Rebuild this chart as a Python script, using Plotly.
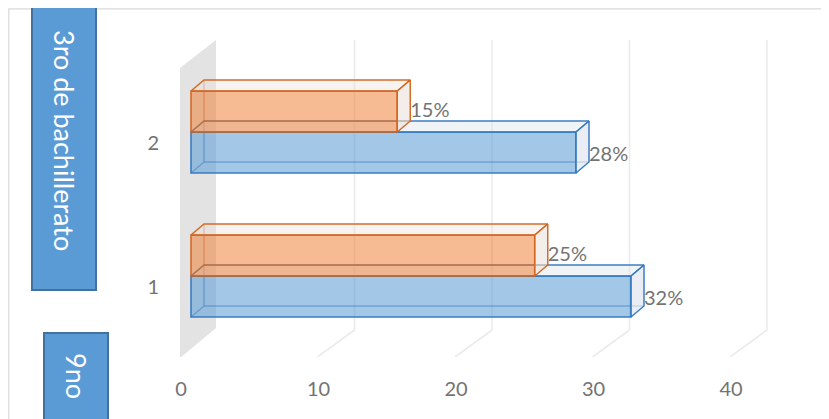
import plotly.graph_objects as go

# ---------------- data ----------------
categories = [1, 2]
category_labels = ["1", "2"]
serie_azul = [32, 28]
serie_naranja = [25, 15]
etiqueta_azul = ["32%", "28%"]
etiqueta_naranja = ["25%", "15%"]
x_ticks = [0, 10, 20, 30, 40]
texto_caja_1 = "3ro de bachillerato"
texto_caja_2 = "9no"

# ---------------- geometry (reference pixels) ----------------
W, H = 829, 419
PAGE_OFF = 8                       # default body margin of the html page
L, RX, T, BY = 170, 800, 20, 357   # plot area edges (page pixels)
X0PX, PXX = 191.0, 13.75           # x=0 pixel, pixels per x unit
Y1PX, PXY = 276.0, 144.0           # category 1 pixel, pixels per category unit


def ux(p):
    return p / PXX


def uy(p):
    return p / PXY


def px2x(px):
    return (px - X0PX) / PXX


def py2y(py):
    return 1 + (Y1PX - py) / PXY


PW, PH = RX - L, BY - T


def paperx(px):
    return (px - L) / PW


def papery(py):
    return (BY - py) / PH


x_range = [px2x(L), px2x(RX)]
y_range = [py2y(BY), py2y(T)]

BAR_H = uy(41)
BDX, BDY = ux(13), uy(11)       # bar depth
GDX = ux(26)                    # back wall offset
FDX, FDY = ux(-37), uy(-27)     # floor diagonal
G_TOP, G_BOT = py2y(40), py2y(330)

FONT = "Lato"
GRAY = "#737373"

fig = go.Figure()

# side wall
wx = [ux(-11), ux(-11), ux(25), ux(25), ux(-11)]
wy = [py2y(358), py2y(68), py2y(40), py2y(328), py2y(358)]
fig.add_trace(go.Scatter(x=wx, y=wy, mode="lines", fill="toself",
                         fillcolor="#e3e3e3", line=dict(width=0),
                         hoverinfo="skip", showlegend=False))

# gridlines (back wall + floor)
gx, gy = [], []
for t in x_ticks[1:]:
    gx += [t + GDX, t + GDX, t + GDX + FDX, None]
    gy += [G_TOP, G_BOT, G_BOT + FDY, None]
fig.add_trace(go.Scatter(x=gx, y=gy, mode="lines",
                         line=dict(color="#ebebeb", width=1.6),
                         hoverinfo="skip", showlegend=False))


def add_series(vals, offset_sign, fill, edge, edge_soft, top_fill, side_fill,
               labels, xa, ya):
    hx, hy = [], []
    tx, ty = [], []
    sx, sy = [], []
    for c, v in zip(categories, vals):
        if offset_sign < 0:
            bot, top = c - BAR_H, c
        else:
            bot, top = c, c + BAR_H
        hx += [0, BDX, BDX, None, BDX, v + BDX, None]
        hy += [bot, bot + BDY, top + BDY, None, bot + BDY, bot + BDY, None]
        tx += [0, v, v + BDX, BDX, 0, None]
        ty += [top, top, top + BDY, top + BDY, top, None]
        sx += [v, v + BDX, v + BDX, v, v, None]
        sy += [bot, bot + BDY, top + BDY, top, bot, None]
    fig.add_trace(go.Scatter(x=hx, y=hy, mode="lines", xaxis=xa, yaxis=ya,
                             line=dict(color=edge_soft, width=1.4),
                             hoverinfo="skip", showlegend=False))
    fig.add_trace(go.Scatter(x=tx, y=ty, mode="lines", fill="toself",
                             fillcolor=top_fill, xaxis=xa, yaxis=ya,
                             line=dict(color=edge, width=1.5),
                             hoverinfo="skip", showlegend=False))
    fig.add_trace(go.Scatter(x=sx, y=sy, mode="lines", fill="toself",
                             fillcolor=side_fill, xaxis=xa, yaxis=ya,
                             line=dict(color=edge, width=1.5),
                             hoverinfo="skip", showlegend=False))
    fig.add_trace(go.Bar(y=categories, x=vals, orientation="h", base=0,
                         width=BAR_H, offset=(-BAR_H if offset_sign < 0 else 0),
                         marker=dict(color=fill, line=dict(color=edge, width=1.6)),
                         xaxis=xa, yaxis=ya, showlegend=False, hoverinfo="skip"))
    ly = [(c - BAR_H / 2 - uy(3)) if offset_sign < 0 else (c + BAR_H / 2) for c in categories]
    fig.add_trace(go.Scatter(x=[v + BDX for v in vals], y=ly, mode="text",
                             text=labels, textposition="middle right",
                             textfont=dict(family=FONT, size=20, color=GRAY),
                             xaxis=xa, yaxis=ya, hoverinfo="skip", showlegend=False))


add_series(serie_azul, -1, "rgba(91,155,213,0.56)", "rgba(50,120,190,0.95)",
           "rgba(50,120,190,0.45)", "rgba(220,227,236,0.4)",
           "rgba(220,227,236,0.6)", etiqueta_azul, "x2", "y2")
add_series(serie_naranja, 1, "rgba(240,125,49,0.52)", "rgba(210,100,30,0.95)",
           "rgba(210,100,30,0.45)", "rgba(236,226,220,0.4)",
           "rgba(236,226,220,0.6)", etiqueta_naranja, "x3", "y3")

shapes = [
    dict(type="rect", xref="paper", yref="paper",
         x0=paperx(PAGE_OFF + 0.8), x1=paperx(827.5),
         y0=papery(PAGE_OFF + 0.8), y1=papery(440),
         line=dict(color="#d9d9d9", width=1.2), fillcolor="rgba(0,0,0,0)"),
    dict(type="rect", xref="paper", yref="paper",
         x0=paperx(32), x1=paperx(96), y0=papery(7), y1=papery(290),
         line=dict(color="#41719c", width=2), fillcolor="#5b9bd5"),
    dict(type="rect", xref="paper", yref="paper",
         x0=paperx(44), x1=paperx(108), y0=papery(333), y1=papery(450),
         line=dict(color="#41719c", width=2), fillcolor="#5b9bd5"),
]

annotations = [
    dict(text=texto_caja_1, xref="paper", yref="paper", x=paperx(65), y=papery(140),
         textangle=90, showarrow=False, xanchor="center", yanchor="middle",
         font=dict(family=FONT, size=27, color="white")),
    dict(text=texto_caja_2, xref="paper", yref="paper", x=paperx(77), y=papery(376),
         textangle=90, showarrow=False, xanchor="center", yanchor="middle",
         font=dict(family=FONT, size=27, color="white")),
]

fig.update_layout(
    width=W, height=H,
    margin=dict(l=L - PAGE_OFF, r=W - (RX - PAGE_OFF), t=T - PAGE_OFF,
                b=H - (BY - PAGE_OFF), pad=0),
    paper_bgcolor="white", plot_bgcolor="rgba(0,0,0,0)",
    barmode="overlay",
    shapes=shapes, annotations=annotations,
    xaxis=dict(range=x_range, tickvals=x_ticks, ticktext=[str(t) for t in x_ticks],
               showgrid=False, zeroline=False, showline=False, ticks="",
               ticklabelshift=-10, ticklabelstandoff=18,
               tickfont=dict(family=FONT, size=20, color=GRAY)),
    yaxis=dict(range=y_range, tickvals=categories, ticktext=category_labels,
               showgrid=False, zeroline=False, showline=False, ticks="",
               ticklabelshift=11, ticklabelstandoff=10,
               tickfont=dict(family=FONT, size=20, color=GRAY)),
    xaxis2=dict(range=x_range, overlaying="x", anchor="y2", visible=False),
    yaxis2=dict(range=y_range, overlaying="y", anchor="x2", visible=False),
    xaxis3=dict(range=x_range, overlaying="x", anchor="y3", visible=False),
    yaxis3=dict(range=y_range, overlaying="y", anchor="x3", visible=False),
)

fig.write_html("out.html")
